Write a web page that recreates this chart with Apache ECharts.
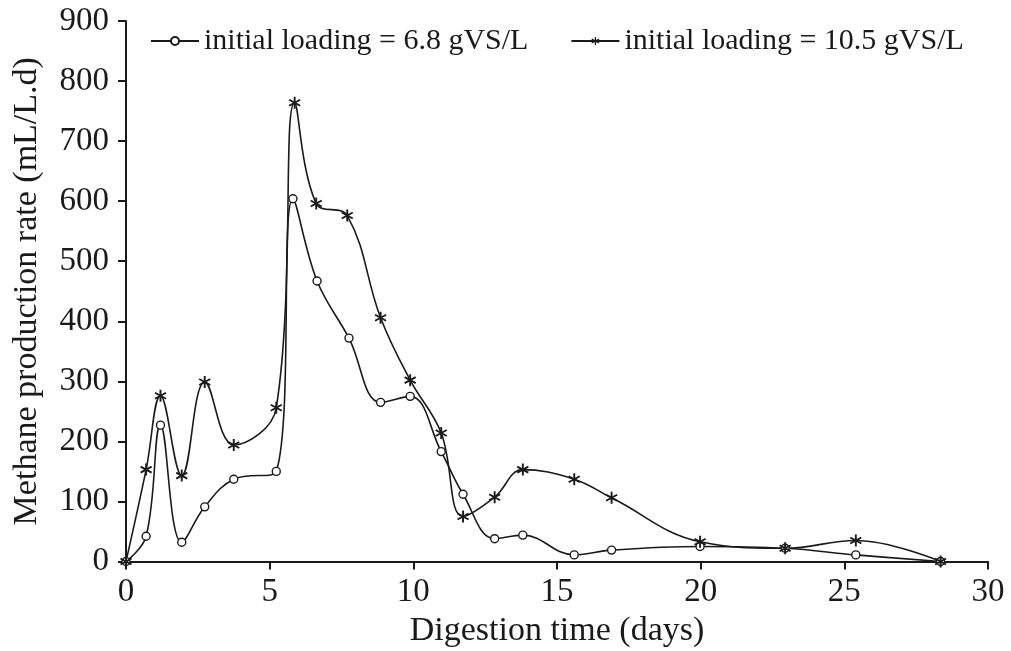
<!DOCTYPE html>
<html>
<head>
<meta charset="utf-8">
<script src="https://cdn.jsdelivr.net/npm/echarts@6/dist/echarts.min.js"></script>
<style>html,body{margin:0;padding:0;background:#fff}#c{width:1011px;height:651px}</style>
</head>
<body>
<div id="c"></div>
<script>
var seriesNames = ['initial loading = 6.8 gVS/L', 'initial loading = 10.5 gVS/L'];
var days1 = [0, 0.7, 1.2, 1.94, 2.74, 3.75, 5.23, 5.81, 6.65, 7.76, 8.86, 9.89, 10.97, 11.73, 12.83, 13.81, 15.6, 16.9, 19.98, 22.94, 25.4, 28.35];
var rate1 = [0, 42, 227, 32, 91, 137, 150, 604, 467, 372, 265, 275, 183, 112, 38, 44, 11, 19, 25, 22, 11, 0];
var days2 = [0, 0.7, 1.2, 1.94, 2.74, 3.75, 5.23, 5.87, 6.62, 7.7, 8.86, 9.89, 10.97, 11.73, 12.83, 13.81, 15.6, 16.9, 19.98, 22.94, 25.4, 28.35];
var rate2 = [0, 153, 276, 143, 299, 194, 256, 764, 596, 576, 406, 302, 214, 75, 107, 153, 137, 106, 33, 22, 35, 0];
var xAxisTitle = 'Digestion time (days)';
var yAxisTitle = 'Methane production rate (mL/L.d)';

function pairs(xs, ys) { return xs.map(function (x, i) { return [x, ys[i]]; }); }

var asterisk = 'path://M-1.5 -10L1.5 -10L1.5 10L-1.5 10Z M-9.41 -3.70L-7.91 -6.30L9.41 3.70L7.91 6.30Z M7.91 -6.30L9.41 -3.70L-7.91 6.30L-9.41 3.70Z';
var ink = '#1a1a1a';
var font = 'Liberation Serif';

var chart = echarts.init(document.getElementById('c'));
chart.setOption({
  animation: false,
  backgroundColor: '#fff',
  textStyle: { fontFamily: font, color: ink },
  grid: { left: 126, right: 23, top: 21, bottom: 89.5, outerBoundsMode: 'none', containLabel: false },
  legend: {
    top: 21, left: 145, itemGap: 42, itemWidth: 48, itemHeight: 10,
    textStyle: { fontFamily: font, fontSize: 30, color: ink },
    data: seriesNames
  },
  xAxis: {
    type: 'value', min: 0, max: 30, interval: 5,
    name: xAxisTitle, nameLocation: 'middle', nameGap: 53,
    nameTextStyle: { fontFamily: font, fontSize: 34, color: ink },
    axisLine: { lineStyle: { color: ink, width: 2 } },
    axisTick: { inside: false, length: 8, lineStyle: { color: ink, width: 2 } },
    axisLabel: { fontFamily: font, fontSize: 33, color: ink, margin: 14 },
    splitLine: { show: false }
  },
  yAxis: {
    type: 'value', min: 0, max: 900, interval: 100,
    name: yAxisTitle, nameLocation: 'middle', nameGap: 82,
    nameTextStyle: { fontFamily: font, fontSize: 34, color: ink },
    axisLine: { show: true, lineStyle: { color: ink, width: 2 } },
    axisTick: { show: true, inside: false, length: 8, lineStyle: { color: ink, width: 2 } },
    axisLabel: { fontFamily: font, fontSize: 33, color: ink, margin: 17 },
    splitLine: { show: false }
  },
  series: [
    {
      name: seriesNames[0], type: 'line', smooth: 0.4,
      data: pairs(days1, rate1),
      symbol: 'circle', symbolSize: 8,
      lineStyle: { color: ink, width: 1.6 },
      itemStyle: { color: '#fff', borderColor: ink, borderWidth: 1.4 }
    },
    {
      name: seriesNames[1], type: 'line', smooth: 0.4,
      data: pairs(days2, rate2),
      symbol: asterisk, symbolSize: 12,
      lineStyle: { color: ink, width: 1.6 },
      itemStyle: { color: ink, borderColor: ink, borderWidth: 0 }
    }
  ]
});
</script>
</body>
</html>
